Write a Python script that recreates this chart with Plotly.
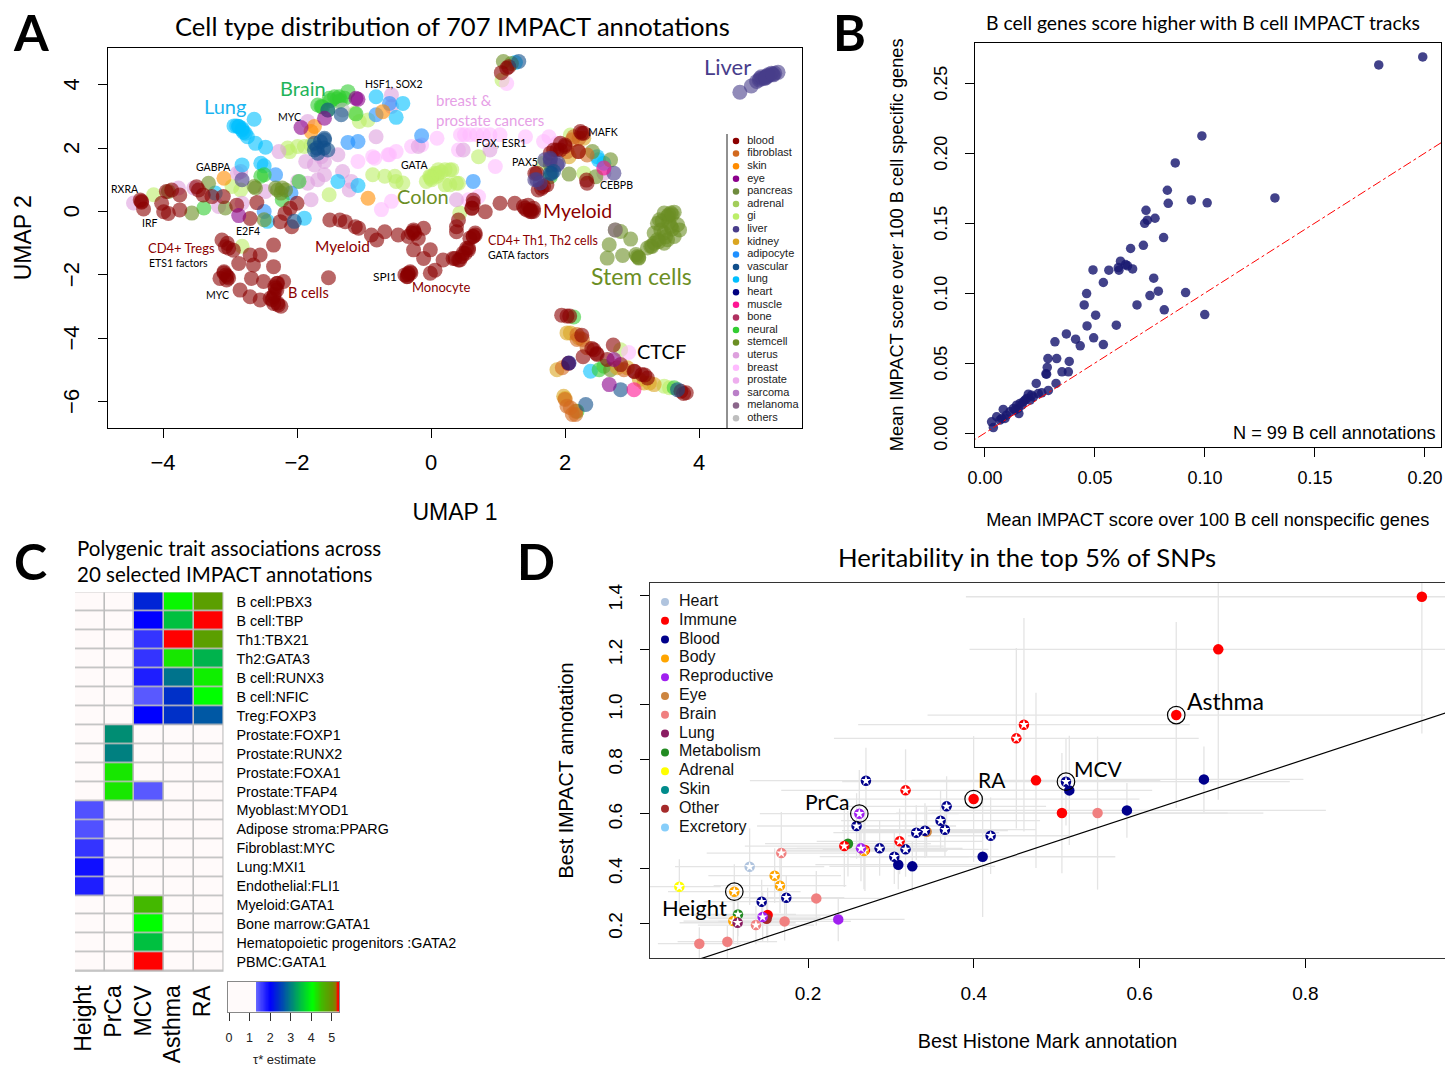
import plotly.graph_objects as go
import numpy as np

W, H = 1445, 1067
CAL = "Lato, sans-serif"
HEL = "Liberation Sans, Arial, sans-serif"

# ---------- Panel A: UMAP coordinates by tissue ----------
gi_u1 = [-2.11,-2.14,-1.99,-1.89,-1.79,-1.52,-.87,-.69,-.54,-.52,-.42,.11,-.02,-.07,.21,.31,.21,.41,.06,.01,.09,-2.97,-2.84,-4.14,-1.07,-.94,-1.14,-2.82,.71,.28,.38,.28,.43,2.28,1.06,3.48,2.83,1.68,2.08,3.56,.05,.1,.0,.15,-.0]
gi_u2 = [1.89,2.00,2.05,2.05,2.10,.53,1.16,1.11,1.11,.95,.90,1.32,1.11,.95,1.32,1.32,.84,.89,1.21,1.00,1.11,.79,.68,.53,2.84,2.89,3.10,-1.10,1.73,1.31,.89,.84,-.05,1.21,4.15,-5.51,-4.36,1.52,2.41,-5.56,1.15,1.2,1.05,1.25,1.1]
breast_u1 = [-1.09,-.87,-.84,-.64,-.52,-.62,-.29,-.14,.09,.44,.41,-.74,-.59,.50,.58,.68,.78,.88,1.03,1.41,1.76,1.68,1.88,.96,1.13,.56,.71,2.95]
breast_u2 = [1.58,1.73,1.68,1.79,1.89,1.79,2.05,2.10,2.31,2.42,1.94,.06,.32,2.42,2.42,2.42,2.42,2.42,2.42,2.36,2.36,2.21,2.15,1.42,4.04,.37,.47,-4.45]
uterus_u1 = [-1.87,-1.74,-1.59,-1.64,-1.39,-1.32,-1.59,-1.69,-1.84,-1.99,-1.79,-1.22,-1.19,-.82,-2.84,-2.89,-2.47,-2.82,-3.17,-3.77,-3.54,-1.84,-.59,-.59,-2.27,.38,.48,.88,-4.44,2.58,-.19,2.58,2.58]
uterus_u2 = [1.58,1.47,1.58,1.73,1.79,1.26,1.16,1.00,.89,.95,.37,.68,.95,2.36,1.26,1.21,.63,.26,.16,.74,.74,2.84,3.68,3.31,1.89,.37,1.94,1.94,.27,1.37,2.05,1.37,1.21]
lung_u1 = [-2.64,-2.94,-2.87,-2.82,-2.77,-2.74,-2.62,-2.47,-2.82,-2.54,-2.49,-1.39,-1.09,-2.44,-1.89,-3.22,-.52,-.82,-.42,2.38,2.48,2.58,-2.87,-2.82,-2.8,-2.9,2.5,1.26]
lung_u2 = [2.91,2.70,2.68,2.57,2.47,2.36,2.15,2.03,1.47,1.52,1.44,.95,.82,-.31,-.21,.58,2.97,3.62,3.41,-5.04,1.73,1.52,2.68,2.62,2.5,2.7,1.63,4.70]
adipocyte_u1 = [-2.32,-1.24,-1.09,-.14,-2.49,-2.09,-.82,-.62,.63]
adipocyte_u2 = [1.16,2.18,2.21,2.39,.00,.58,3.05,3.41,.95]
neural_u1 = [-1.64,-1.69,-1.44,-1.37,-1.24,-1.37,-1.29,-2.49,-2.54,-1.97,-2.22,-3.39,-1.12,-1.54,2.13,2.58,2.51,2.18,1.78,-1.52,-1.5,-1.4,-1.35,-1.62,3.63]
neural_u2 = [3.31,3.36,3.62,3.62,3.78,3.47,3.57,1.16,1.11,.95,.37,.11,3.08,3.2,-3.33,-4.88,-4.99,-6.3,1.1,3.57,3.5,3.55,3.5,3.3,-5.56]
stem_u1 = [-2.62,-2.64,-3.32,-3.57,-3.07,-2.49,-2.29,-2.22,-2.24,-2.17,-2.32,-3.92,2.75,2.83,2.98,2.66,2.63,2.86,3.08,3.06,3.23,3.28,3.33,3.38,3.48,3.63,3.53,3.41,3.68,3.71,3.63,3.53,3.48,3.38,3.43,3.58,3.33,3.48,3.58,3.1,2.06,2.68,2.46,2.41,1.08,2.68,3.45,3.55,3.6,3.5,3.4,3.3,3.1,3.55,3.6,1.2,1.78]
stem_u2 = [.74,.79,.89,-.05,.11,-.26,.68,.74,.58,.68,.74,.63,-.58,-.63,-.87,-1.05,-1.47,-1.39,-1.42,-1.36,-1.15,-1.10,-.68,-.37,-.05,-.02,-.16,-.26,-.42,-.58,-.79,-.89,-1.0,-.89,-.58,-.47,-1.0,-.68,-.05,-1.47,1.18,1.63,1.1,1.89,4.73,-4.99,-.3,-.35,-.55,-.8,-.95,-1.1,-1.45,-.1,-.1,4.67,1.47]
liver_u1 = [4.61,4.78,4.86,4.93,5.01,5.08,5.18,5.03,4.98,4.91,5.11,5.13,1.78,1.88,1.58,2.73,-2.82,4.95,5.0,5.05,4.9,5.0,5.1,1.78,1.7,1.9,1.55,1.63]
liver_u2 = [3.76,3.96,4.10,4.25,4.27,4.36,4.39,4.31,4.20,4.20,4.31,4.36,1.63,1.47,1.0,1.21,1.0,4.2,4.25,4.3,4.15,4.22,4.33,1.68,1.63,1.52,1.0,.9]
vascular_u1 = [-1.74,-1.59,-1.74,-1.54,-1.69,-1.59,-1.54,-2.04,2.83,2.31,1.31,1.8,-1.34,-1.65,-1.6,-1.7,1.78,1.83,3.68]
vascular_u2 = [2.15,2.31,1.94,1.94,1.84,2.26,3.2,-.31,-5.62,-6.09,4.73,1.2,3.05,2.2,2.0,2.0,1.21,1.26,-5.62]
heart_u1 = [2.06]
heart_u2 = [-4.78]
eye_u1 = [-1.12,-1.09,-1.94,-2.87,-1.59,2.66,2.73]
eye_u2 = [3.57,3.54,2.65,-.13,2.94,-5.46,-4.67]
fibroblast_u1 = [2.0,2.08,2.11,2.16,2.03,2.2,2.33,2.13,2.26,2.18,1.96,2.33,2.18,2.03,2.16,2.88,2.11,2.21]
fibroblast_u2 = [-5.93,-6.19,-6.4,-6.4,1.89,1.89,1.78,2.36,-4.04,-3.88,-4.93,-4.30,-4.04,-6.14,-6.3,-4.99,2.26,2.31]
kidney_u1 = [2.08,2.78,3.18,3.33,1.88,2.0,2.06,2.28,2.03,2.21,2.93,3.26,3.11,1.98]
kidney_u2 = [-3.83,-4.93,-5.41,-5.46,-4.99,-5.9,1.73,2.31,-3.83,-3.99,-4.93,-5.41,-5.3,-5.83]
skin_u1 = [-3.09,-.94,-.72,-1.74,-1.79]
skin_u2 = [1.05,.42,3.15,2.68,2.52]
muscle_u1 = [3.03,2.58]
muscle_u2 = [-5.62,1.37]
others_u1 = [-1.32]
others_u2 = [3.2]
melanoma_u1 = [2.75]
melanoma_u2 = [-.58]
blood_u1 = [-4.32,-4.29,-4.34,-3.95,-4.02,-3.75,-3.92,-3.99,-3.75,-3.87,-3.47,-3.40,-3.27,-3.50,-3.10,-2.90,-2.60,-2.70,-2.18,-2.10,-2.08,-2.25,-2.00,
            -3.12,-3.07,-3.02,-2.95,-2.87,-2.65,-2.55,-2.70,-2.35,-2.35,-3.15,-3.06,-3.05,-3.09,-2.85,-2.70,-2.68,-2.50,-2.30,-2.20,-2.35,-2.40,-2.28,-2.35,-2.55,-2.30,-2.33,-1.53,
            -1.51,-1.36,-1.28,-1.13,-1.08,-.89,-.81,-.69,-.49,-.34,-.26,-.24,-.11,-.19,-.26,-.01,-.11,.06,.18,.36,-.01,-.39,-.34,-.36,-.31,
            .63,.66,.56,.51,.43,.33,.53,.38,.41,.61,.63,.81,1.03,1.25,1.40,1.48,1.53,1.45,1.50,.38,
            2.25,2.00,1.83,1.55,1.65,1.73,2.32,2.20,1.93,1.95,2.07,2.25,2.40,2.47,2.72,3.04,3.19,3.77,2.05,2.27,1.05,1.13,
            -3.04,-3.09,-3.04,-3.02,-2.29,-2.32,-2.34,-2.37,-2.29,-2.24,-.34,-.35,-.3,-.26,-.29,.63,.58,.66,.48,.56,.46,.41,.61,.63,1.43,1.48,1.53,1.38,-4.32,
            2.43,2.48,2.63,2.83,3.03,3.15,3.23,3.73,3.81,2.03,1.16,2.23,2.28,2.0,1.93,1.88,1.78,1.58,1.68,1.6,2.33]
blood_u2 = [.29,.08,.36,.63,.26,.52,-.06,-.01,.05,.68,.68,.52,.47,.78,.47,.20,.28,-.22,-.06,.10,-.48,-.32,.26,
            -.90,-1.11,-1.16,-1.22,-1.64,-1.69,-1.37,-1.37,-1.06,-1.74,-2.11,-2.00,-2.16,-1.90,-2.48,-2.69,-2.11,-2.21,-2.27,-2.21,-2.69,-2.74,-2.95,-2.90,-2.79,-2.48,-2.37,-2.09,
            -.27,-.27,-.32,-.48,-.53,-.74,-.90,-.64,-.74,-.79,-.58,-.69,-.53,-.85,-1.21,-1.21,-1.48,-1.85,-1.53,-1.48,-1.95,-2.00,-1.95,-2.06,-1.90,
            -.79,-.74,-1.21,-1.32,-1.53,-1.48,-1.16,-.64,-.27,.10,.36,-.01,.26,.26,.10,.05,.10,.20,-.01,-.48,
            2.47,2.10,1.94,1.20,.73,.84,.99,1.89,1.94,-3.27,-3.30,-3.90,-4.32,-4.48,-4.21,-5.05,-5.16,-5.74,-4.79,-4.58,4.38,4.52,
            -1.0,-1.94,-2.05,-2.1,-2.26,-2.42,-2.62,-2.78,-2.89,-2.99,-1.99,-2.05,-1.94,-.63,-.68,-.79,-.84,-.68,-1.31,-1.15,-1.42,-1.53,.11,.26,.05,0,0,.16,.32,
            -4.36,-4.51,-4.67,-4.83,-5.04,-5.14,-5.25,-5.67,-5.72,-3.3,4.57,2.52,2.47,2.05,2.15,1.94,1.84,1.21,.79,.68,.89]

tissue_names = ["blood","fibroblast","skin","eye","pancreas","adrenal","gi","liver","kidney","adipocyte","vascular","lung","heart","muscle","bone","neural","stemcell","uterus","breast","prostate","sarcoma","melanoma","others"]
tissue_colors = ["#8B0000","#D2691E","#FF8C00","#8B008B","#6E8B3D","#A2CD5A","#BCEE68","#483D8B","#DAA520","#1E90FF","#104E8B","#00BFFF","#000080","#FF1493","#B03060","#32CD32","#6B8E23","#DDA0DD","#FFBBFF","#EEAEEE","#BA7FC8","#8B668B","#BEBEBE"]

# ---------- Panel B ----------
b_nonspecific = [.0986,.0865,.0829,.0833,.0938,.1010,.0732,.0773,.0738,.0726,.0812,.0720,.0662,.0491,.0563,.0616,.0609,.0606,.0639,.0648,.0671,.0538,.0462,.0451,.0503,.0464,.0370,.0318,.0412,.0433,.0494,.0538,.0597,.0691,.0750,.0788,.0767,.0912,.0815,.0999,.0286,.0326,.0383,.0283,.0277,.0280,.0350,.0379,.0233,.0323,.0288,.0258,.0242,.0220,.0197,.0205,.0182,.0174,.0159,.0151,.0144,.0129,.0113,.0083,.0098,.0076,.0053,.0030,.0038,.0068,.0091,.0154,.0190,.0167,.0212,.0136,.179,.199,.1318]
b_specific = [.2122,.1929,.1734,.1641,.1665,.1644,.1591,.1534,.1520,.1498,.1396,.1341,.1318,.1165,.1163,.1227,.1163,.1182,.1203,.1194,.1172,.1075,.0996,.0915,.0842,.0765,.0708,.0651,.0670,.0623,.0680,.0632,.0770,.0915,.0982,.1013,.1106,.1003,.0880,.0846,.0532,.0532,.0511,.0468,.0423,.0420,.0437,.0437,.0354,.0354,.0304,.0287,.0282,.0258,.0277,.0235,.0235,.0223,.0211,.0175,.0199,.0175,.0151,.0168,.0127,.0104,.0116,.0080,.0039,.0092,.0104,.0139,.0247,.0199,.0270,.0163,.2629,.2686,.1679]
b_line = [-0.01, 0.22]

# ---------- Panel C ----------
traits = ["Height","PrCa","MCV","Asthma","RA"]
annotations_c = ["B cell:PBX3","B cell:TBP","Th1:TBX21","Th2:GATA3","B cell:RUNX3","B cell:NFIC","Treg:FOXP3","Prostate:FOXP1","Prostate:RUNX2","Prostate:FOXA1","Prostate:TFAP4","Myoblast:MYOD1","Adipose stroma:PPARG","Fibroblast:MYC","Lung:MXI1","Endothelial:FLI1","Myeloid:GATA1","Bone marrow:GATA1","Hematopoietic progenitors :GATA2","PBMC:GATA1"]
tau_height = [0,0,0,0,0,0,0,0,0,0,0,1.45,1.45,1.65,1.9,1.8,0,0,0,0]
tau_prca   = [0,0,0,0,0,0,0,3.1,3.0,4.2,4.2,0,0,0,0,0,0,0,0,0]
tau_mcv    = [2.3,2.0,1.65,1.65,1.8,1.4,2.0,0,0,0,1.4,0,0,0,0,0,4.5,4.05,3.5,5.35]
tau_asthma = [4.1,3.5,5.35,4.2,2.9,2.4,2.4,0,0,0,0,0,0,0,0,0,0,0,0,0]
tau_ra     = [4.8,5.35,4.8,3.4,4.15,4.05,2.7,0,0,0,0,0,0,0,0,0,0,0,0,0]
tau_max = 5.35
tau_scale = [(0,"#FFFAFA"),(1.3,"#FFFAFA"),(1.31,"#6666FF"),(2.0,"#0000FF"),(2.4,"#0030C8"),(3.0,"#008080"),(3.5,"#00C040"),(4.05,"#00FF00"),(4.5,"#44B800"),(5.0,"#6B8E00"),(5.2,"#9A7000"),(5.25,"#FF0000"),(5.35,"#FF0000")]
tau_ticks = [0,1,2,3,4,5]

# ---------- Panel D ----------
immune_x = [.9405,.6949,.6442,.4605,.4513,.4750,.5063,.3998,.3177,.3105,.2438,.2687,.1513]
immune_y = [1.394,1.2016,.9615,.9261,.8762,.7226,.6031,.6543,.6861,.4996,.4825,.4679,.2302]
immune_xe = [.55,.30,.30,.20,.22,.15,.20,.20,.15,.10,.12,.10,.09]
immune_ye = [.50,.55,.34,.39,.33,.32,.22,.23,.15,.12,.15,.15,.10]
immune_star = [0,0,0,1,1,0,0,0,1,1,1,1,0]
blood_x = [.6776,.5847,.5152,.4107,.5112,.2699,.2586,.2864,.3177,.3041,.3089,.3258,.3306,.3411,.3599,.3672,.3652,.4203,.1738,.1441]
blood_y = [.7262,.6128,.6860,.4434,.7177,.7215,.5557,.4740,.4703,.4435,.4143,.4082,.5313,.5386,.5752,.6276,.5423,.5202,.2936,.2790]
blood_xe = [.12,.24,.10,.16,.27,.14,.12,.10,.10,.09,.10,.10,.10,.10,.12,.12,.11,.10,.07,.07]
blood_ye = [.12,.10,.20,.22,.16,.12,.12,.10,.10,.10,.09,.09,.10,.10,.11,.11,.10,.14,.08,.08]
blood_star = [0,0,0,0,1,1,1,1,1,1,0,0,1,1,1,1,1,1,1,1]
repro_x = [.2365,.2619,.2639,.1453]
repro_y = [.2143,.6008,.4740,.2229]
repro_xe = [.08,.12,.10,.07]
repro_ye = [.08,.16,.12,.09]
repro_star = [0,1,1,1]
body_x = [.1111,.1598,.1662,.2675,.1099]
body_y = [.3155,.3740,.3375,.4643,.2083]
body_xe = [.08,.08,.08,.10,.06]
body_ye = [.10,.10,.10,.14,.08]
body_star = [1,1,1,1,1]
brain_x = [.0689,.1027,.1372,.1718,.2100,.1678,.5493]
brain_y = [.1254,.1327,.1936,.2070,.2911,.4569,.6031]
brain_xe = [.05,.06,.07,.08,.08,.09,.20]
brain_ye = [.06,.06,.07,.07,.10,.15,.28]
brain_star = [0,0,1,0,0,1,0]
lung_x = [.1151]
lung_y = [.2021]
lung_xe = [.07]
lung_ye = [.08]
lung_star = [1]
metab_x = [.1155,.2482]
metab_y = [.2326,.4910]
metab_xe = [.07,.10]
metab_ye = [.08,.12]
metab_star = [1,0]
adrenal_x = [.0448]
adrenal_y = [.3338]
adrenal_xe = [.05]
adrenal_ye = [.10]
adrenal_star = [1]
other_x = [.1501]
other_y = [.2168]
other_xe = [.07]
other_ye = [.07]
other_star = [0]
heart_x = [.1296]
heart_y = [.4069]
heart_xe = [.09]
heart_ye = [.14]
heart_star = [1]
eye_x = [.3431]
eye_y = [.5350]
eye_xe = [.08]
eye_ye = [.09]
eye_star = [0]

d_groups = [
 ("Eye","#CD853F",eye_x,eye_y,eye_xe,eye_ye,eye_star),
 ("Blood","#00008B",blood_x,blood_y,blood_xe,blood_ye,blood_star),
 ("Metabolism","#228B22",metab_x,metab_y,metab_xe,metab_ye,metab_star),
 ("Immune","#FF0000",immune_x,immune_y,immune_xe,immune_ye,immune_star),
 ("Body","#FFA500",body_x,body_y,body_xe,body_ye,body_star),
 ("Brain","#F08080",brain_x,brain_y,brain_xe,brain_ye,brain_star),
 ("Other","#A52A2A",other_x,other_y,other_xe,other_ye,other_star),
 ("Reproductive","#A020F0",repro_x,repro_y,repro_xe,repro_ye,repro_star),
 ("Lung","#8B1C62",lung_x,lung_y,lung_xe,lung_ye,lung_star),
 ("Adrenal","#FFFF00",adrenal_x,adrenal_y,adrenal_xe,adrenal_ye,adrenal_star),
 ("Heart","#B0C4DE",heart_x,heart_y,heart_xe,heart_ye,heart_star),
]
d_legend_names = ["Heart","Immune","Blood","Body","Reproductive","Eye","Brain","Lung","Metabolism","Adrenal","Skin","Other","Excretory"]
d_legend_colors = ["#B0C4DE","#FF0000","#00008B","#FFA500","#A020F0","#CD853F","#F08080","#8B1C62","#228B22","#FFFF00","#008B8B","#A52A2A","#87CEFA"]
trait_names = ["Asthma","RA","MCV","PrCa","Height"]
trait_x = [.6442,.3998,.5112,.2619,.1111]
trait_y = [.9615,.6543,.7177,.6008,.3155]
diag = [0, 1.5]

# ---------- geometry helpers ----------
def dx(a, b): return [a / W, b / W]
def dy(top, bot): return [1 - bot / H, 1 - top / H]

fig = go.Figure()

# Panel A
umap_order = [
 ("gi",gi_u1,gi_u2),("breast",breast_u1,breast_u2),("uterus",uterus_u1,uterus_u2),("lung",lung_u1,lung_u2),
 ("adipocyte",adipocyte_u1,adipocyte_u2),("neural",neural_u1,neural_u2),("stemcell",stem_u1,stem_u2),
 ("kidney",kidney_u1,kidney_u2),("fibroblast",fibroblast_u1,fibroblast_u2),("skin",skin_u1,skin_u2),
 ("blood",blood_u1,blood_u2),("others",others_u1,others_u2),("melanoma",melanoma_u1,melanoma_u2),("liver",liver_u1,liver_u2),
 ("vascular",vascular_u1,vascular_u2),("eye",eye_u1,eye_u2),("muscle",muscle_u1,muscle_u2),("heart",heart_u1,heart_u2),
]
col = dict(zip(tissue_names, tissue_colors))
for name, a, b in umap_order:
    fig.add_trace(go.Scatter(x=a, y=b, mode="markers", name=name, showlegend=False, xaxis="x", yaxis="y",
                             marker=dict(size=15, color=col[name], opacity=0.6, line=dict(width=0))))

# Panel B
fig.add_trace(go.Scatter(x=b_nonspecific, y=b_specific, mode="markers", showlegend=False, xaxis="x2", yaxis="y2",
                         marker=dict(size=9.5, color="#191970", opacity=0.82, line=dict(width=0))))
fig.add_trace(go.Scatter(x=b_line, y=b_line, mode="lines", showlegend=False, xaxis="x2", yaxis="y2",
                         line=dict(color="#FF0000", width=1, dash="dashdot")))

# Panel C
pos = [(s[0] / tau_max, s[1]) for s in tau_scale]
fig.add_trace(go.Heatmap(z=np.array([tau_height, tau_prca, tau_mcv, tau_asthma, tau_ra]).T, x=traits, y=annotations_c,
                         xaxis="x3", yaxis="y3", zmin=0, zmax=tau_max, colorscale=pos, xgap=1.6, ygap=1.6, showscale=False))
tau_range = np.linspace(0, tau_max, 200)
fig.add_trace(go.Heatmap(z=[tau_range], x=tau_range, y=[0], xaxis="x6", yaxis="y6", zmin=0, zmax=tau_max, colorscale=pos, showscale=False))

# Panel D: error bars first, then points
all_x = sum([g[2] for g in d_groups], [])
all_y = sum([g[3] for g in d_groups], [])
all_xe = sum([g[4] for g in d_groups], [])
all_ye = sum([g[5] for g in d_groups], [])
fig.add_trace(go.Scatter(x=all_x, y=all_y, mode="markers", showlegend=False, xaxis="x4", yaxis="y4", marker=dict(size=1, opacity=0),
                         error_x=dict(type="data", array=all_xe, color="#E4E4E4", thickness=1.3, width=0),
                         error_y=dict(type="data", array=all_ye, color="#E4E4E4", thickness=1.3, width=0)))
fig.add_trace(go.Scatter(x=diag, y=diag, mode="lines", showlegend=False, xaxis="x4", yaxis="y4", line=dict(color="black", width=1.2)))
for name, c, x, y, xe, ye, st in d_groups:
    fig.add_trace(go.Scatter(x=x, y=y, mode="markers", name=name, showlegend=False, xaxis="x4", yaxis="y4",
                             marker=dict(size=10.5, color=c, line=dict(width=0))))
    sx = [a for a, s in zip(x, st) if s]
    sy = [b for b, s in zip(y, st) if s]
    if sx:
        fig.add_trace(go.Scatter(x=sx, y=sy, mode="markers", showlegend=False, xaxis="x4", yaxis="y4",
                                 marker=dict(symbol="star", size=7.5, color="white", line=dict(width=0))))
fig.add_trace(go.Scatter(x=trait_x, y=trait_y, mode="markers", showlegend=False, xaxis="x4", yaxis="y4",
                         marker=dict(size=17.5, color="rgba(0,0,0,0)", line=dict(color="black", width=1.2))))

# Legends on a full-page overlay axis
n_t = len(tissue_names)
fig.add_trace(go.Scatter(x=[736] * n_t, y=[141 + 12.6 * i for i in range(n_t)], mode="markers+text", showlegend=False, xaxis="x5", yaxis="y5",
                         marker=dict(size=6.5, color=tissue_colors, line=dict(width=0)), text=["  " + s for s in tissue_names], textposition="middle right",
                         textfont=dict(family=HEL, size=11, color="#222222")))
n_d = len(d_legend_names)
fig.add_trace(go.Scatter(x=[665] * n_d, y=[602 + 18.8 * i for i in range(n_d)], mode="markers+text", showlegend=False, xaxis="x5", yaxis="y5",
                         marker=dict(size=8, color=d_legend_colors, line=dict(width=0)), text=["\u2002" + s for s in d_legend_names], textposition="middle right",
                         textfont=dict(family=HEL, size=16, color="#111111")))

def box_axis(**kw):
    d = dict(showgrid=False, zeroline=False, showline=True, linecolor="black", linewidth=1, mirror=True,
             ticks="outside", tickcolor="black", ticklen=9, tickwidth=1)
    d.update(kw)
    return d

layout = dict(
    width=W, height=H, margin=dict(l=0, r=0, t=0, b=0, autoexpand=False), paper_bgcolor="white", plot_bgcolor="rgba(0,0,0,0)",
    showlegend=False, hovermode=False,
    xaxis=box_axis(domain=dx(108, 802), range=[(108 - 431) / 67, (802 - 431) / 67], anchor="y", tickvals=[-4, -2, 0, 2, 4],
                   tickfont=dict(family=HEL, size=22, color="black"), ticklabelstandoff=6,
                   title=dict(text="UMAP 1", font=dict(family=HEL, size=23, color="black"), standoff=29)),
    yaxis=box_axis(domain=dy(47.5, 428), range=[(211.5 - 428) / 31.7, (211.5 - 47.5) / 31.7], anchor="x", tickvals=[-6, -4, -2, 0, 2, 4], tickangle=-90,
                   tickfont=dict(family=HEL, size=22, color="black"), ticklabelstandoff=10, ticklabelshift=3,
                   title=dict(text="UMAP 2", font=dict(family=HEL, size=23, color="black"), standoff=21)),
    xaxis2=box_axis(domain=dx(974.5, 1441), range=[-0.00477, 0.2073], anchor="y2", tickvals=[0, .05, .1, .15, .2], tickformat=".2f",
                    tickfont=dict(family=HEL, size=18, color="black"), ticklabelstandoff=5,
                    title=dict(text="Mean IMPACT score over 100 B cell nonspecific genes", font=dict(family=HEL, size=18.2, color="black"), standoff=26)),
    yaxis2=box_axis(domain=dy(42.7, 447), range=[-0.01, 0.2788], anchor="x2", tickvals=[0, .05, .1, .15, .2, .25], tickformat=".2f", tickangle=-90,
                    tickfont=dict(family=HEL, size=18, color="black"), ticklabelstandoff=10, ticklabelshift=3,
                    title=dict(text="Mean IMPACT score over 100 B cell specific genes", font=dict(family=HEL, size=18.2, color="black"), standoff=22)),
    xaxis3=dict(domain=dx(75, 223.5), anchor="y3", side="bottom", showgrid=False, zeroline=False, showline=False, ticks="", tickangle=-90,
                tickfont=dict(family=HEL, size=23, color="black"), ticklabelstandoff=8, ticklabelshift=-6),
    yaxis3=dict(domain=dy(592.3, 971.7), anchor="x3", side="right", autorange="reversed", showgrid=False, zeroline=False, showline=False, ticks="",
                tickfont=dict(family=HEL, size=14.3, color="black"), ticklabelstandoff=12, tickmode="linear", dtick=1),
    xaxis4=box_axis(domain=dx(650, 1445), range=[(650 - 642.2) / 829, (1445 - 642.2) / 829], anchor="y4", tickvals=[.2, .4, .6, .8], tickformat=".1f",
                    linecolor="#333333", tickfont=dict(family=HEL, size=19, color="black"), ticklabelstandoff=9,
                    title=dict(text="Best Histone Mark annotation", font=dict(family=HEL, size=19.8, color="black"), standoff=31)),
    yaxis4=box_axis(domain=dy(583, 958), range=[(978 - 958) / 273.5, (978 - 583) / 273.5], anchor="x4", tickvals=[.2, .4, .6, .8, 1.0, 1.2, 1.4], tickformat=".1f", tickangle=-90,
                    linecolor="#333333", tickfont=dict(family=HEL, size=19, color="black"), ticklabelstandoff=10, ticklabelshift=5,
                    title=dict(text="Best IMPACT annotation", font=dict(family=HEL, size=19.8, color="black"), standoff=26)),
    xaxis5=dict(domain=[0, 1], range=[0, W], anchor="y5", visible=False, fixedrange=True),
    yaxis5=dict(domain=[0, 1], range=[H, 0], anchor="x5", visible=False, fixedrange=True),
    xaxis6=dict(domain=dx(228, 339), range=[-0.05, tau_max], anchor="y6", showgrid=False, zeroline=False, showline=True, linecolor="#888888", mirror=True,
                ticks="outside", ticklen=8, tickcolor="#333333", tickvals=tau_ticks, ticklabelstandoff=6,
                tickfont=dict(family=HEL, size=12.5, color="#222222")),
    yaxis6=dict(domain=dy(981.7, 1011.7), anchor="x6", showgrid=False, zeroline=False, showline=True, linecolor="#888888", mirror=True, ticks="", showticklabels=False),
    shapes=[
        dict(type="rect", layer="below", xref="x3 domain", yref="y3 domain", x0=0, x1=1, y0=0, y1=1, fillcolor="#BDBDBD", line=dict(width=0)),
        dict(type="line", xref="x5", yref="y5", x0=727, x1=727, y0=134, y1=428, line=dict(color="#222222", width=1)),
    ],
)
fig.update_layout(**layout)

def note(x, y, text, size, color="black", anchor="center", family=CAL, bold=False):
    fig.add_annotation(x=x / W, y=1 - y / H, xref="paper", yref="paper", text=("<b>%s</b>" % text) if bold else text, showarrow=False,
                       xanchor=anchor, yanchor="middle", font=dict(family=family, size=size, color=color))

for t, x, y in [("A", 31, 32), ("B", 849, 32), ("C", 30, 561), ("D", 536, 561)]:
    note(x, y, t, 50, bold=True)
note(453, 26, "Cell type distribution of 707 IMPACT annotations", 25.6)
note(1203, 22, "B cell genes score higher with B cell IMPACT tracks", 19.4)
note(75, 548, "Polygenic trait associations across", 20.5, anchor="left")
note(75, 574, "20 selected IMPACT annotations", 20.5, anchor="left")
note(1027, 557, "Heritability in the top 5% of SNPs", 25.7)
note(1438, 433, "N = 99 B cell annotations", 18.2, anchor="right", family=HEL)
note(284, 1059, "τ* estimate", 13, "#222222", family=HEL)

DR, OL, PK = "#8B0000", "#6B8E23", "#E6A0E6"
for x, y, t, s, c in [
    (727,67,"Liver",22,"#483D8B"),(303,88,"Brain",20,"#1FB45A"),(225,106,"Lung",20,"#1AB4F0"),(394,84,"HSF1, SOX2",10.5,"black"),
    (289,117,"MYC",10.5,"black"),(603,132,"MAFK",10.5,"black"),(501,143,"FOX, ESR1",10.5,"black"),(525,162,"PAX5",10.5,"black"),
    (414,165,"GATA",10.5,"black"),(213,167,"GABPA",10.5,"black"),(125,189,"RXRA",10.5,"black"),(150,223,"IRF",10.5,"black"),
    (616,185,"CEBPB",10.5,"black"),(423,196,"Colon",20,OL),(577,210,"Myeloid",19.5,DR),(342,246,"Myeloid",15.5,DR),
    (248,231,"E2F4",10.5,"black"),(181,248,"CD4+ Tregs",13,DR),(178,263,"ETS1 factors",10.5,"black"),(641,276,"Stem cells",23,OL),
    (385,277,"SPI1",12,"black"),(441,287,"Monocyte",13,DR),(217,295,"MYC",10.5,"black"),(308,293,"B cells",14.5,DR),(661,351,"CTCF",20,"black"),
    (1225,701,"Asthma",23,"black"),(992,779,"RA",21,"black"),(1098,768,"MCV",21,"black"),(827,801,"PrCa",21,"black"),(694,907,"Height",22,"black"),
]:
    note(x, y, t, s, c)
note(434, 100, "breast &amp;", 15, PK, anchor="left")
note(434, 120, "prostate cancers", 15, PK, anchor="left")
note(486, 240, "CD4+ Th1, Th2 cells", 12.4, DR, anchor="left")
note(486, 255, "GATA factors", 10.5, "black", anchor="left")

fig.write_html("out.html", post_script="document.body.style.margin='0';", config={"displayModeBar": False})
